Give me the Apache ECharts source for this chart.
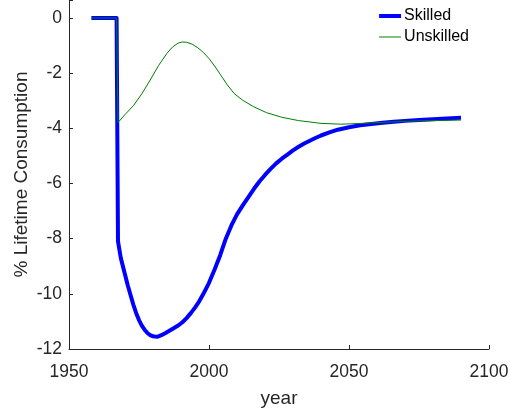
<!DOCTYPE html>
<html>
<head>
<meta charset="utf-8">
<script src="https://cdn.jsdelivr.net/npm/echarts@6/dist/echarts.min.js"></script>
<style>html,body{margin:0;padding:0;background:#fff}#c{width:510px;height:409px}</style>
</head>
<body>
<div id="c"></div>
<script>
var skilledYears = [1958, 1967, 1967.5, 1968.5, 1970, 1971, 1972, 1973, 1974, 1975, 1976, 1977, 1978, 1979, 1980, 1981.5, 1983, 1984.5, 1986, 1987.5, 1989, 1990.5, 1992, 1993.5, 1995, 1996.5, 1998, 2000, 2002, 2004, 2006, 2008, 2010, 2012, 2014, 2016, 2018, 2020, 2022, 2024, 2026, 2028, 2030, 2032, 2034, 2036, 2038, 2040, 2043, 2046, 2050, 2054, 2058, 2062, 2066, 2070, 2075, 2080, 2085, 2090];
var skilledValues = [0, 0, -8.1, -8.7, -9.3, -9.7, -10.05, -10.4, -10.7, -10.95, -11.15, -11.3, -11.42, -11.5, -11.54, -11.56, -11.5, -11.42, -11.33, -11.24, -11.15, -11.03, -10.88, -10.7, -10.5, -10.27, -10.0, -9.6, -9.12, -8.6, -8.0, -7.52, -7.12, -6.8, -6.5, -6.2, -5.93, -5.69, -5.47, -5.27, -5.1, -4.95, -4.8, -4.67, -4.55, -4.45, -4.35, -4.26, -4.15, -4.05, -3.96, -3.89, -3.84, -3.8, -3.76, -3.73, -3.7, -3.67, -3.64, -3.62];
var unskilledYears = [1958, 1967, 1967.5, 1970, 1973, 1976, 1979, 1982, 1985, 1987, 1989, 1990.5, 1992, 1994, 1996, 1998, 2000, 2002, 2004, 2006.5, 2009, 2012, 2016, 2020.5, 2026, 2032, 2040, 2047, 2055, 2065, 2075, 2090];
var unskilledValues = [0, 0, -3.79, -3.5, -3.18, -2.75, -2.25, -1.72, -1.28, -1.05, -0.91, -0.87, -0.88, -0.95, -1.08, -1.25, -1.47, -1.74, -2.04, -2.42, -2.74, -2.98, -3.22, -3.43, -3.6, -3.72, -3.82, -3.85, -3.82, -3.77, -3.73, -3.7];
var yTicks = [-12, -10, -8, -6, -4, -2, 0];
var xTicks = [1950, 2000, 2050, 2100];

function pairs(xs, ys) { return xs.map(function (x, i) { return [x, ys[i]]; }); }

var axisColor = '#262626';
var font = 'Liberation Sans, Arial, sans-serif';
var chart = echarts.init(document.getElementById('c'), null, { renderer: 'canvas' });
chart.setOption({
  animation: false,
  backgroundColor: '#ffffff',
  grid: { left: 69, right: 21, top: 0, bottom: 60, containLabel: false, outerBoundsMode: 'none' },
  legend: {
    right: 36, top: 3, orient: 'vertical', itemGap: 5, itemWidth: 22, itemHeight: 14,
    symbolKeepAspect: true,
    textStyle: { fontFamily: font, fontSize: 16, color: '#000', padding: [0, 0, 0, -2] },
    data: [
      { name: 'Skilled', icon: 'path://M0,0H22V4H0Z', itemStyle: { color: '#0000ff' } },
      { name: 'Unskilled', icon: 'path://M0,0H22V1H0Z', itemStyle: { color: '#008000' } }
    ]
  },
  xAxis: {
    type: 'value', min: 1950, max: 2100, interval: 50,
    name: 'year', nameLocation: 'middle', nameGap: 40, nameMoveOverlap: false,
    nameTextStyle: { fontFamily: font, fontSize: 19, color: axisColor },
    axisLine: { show: true, onZero: false, lineStyle: { color: axisColor, width: 1 } },
    axisTick: { show: true, inside: true, length: 4, lineStyle: { color: axisColor } },
    axisLabel: { fontFamily: font, fontSize: 17.5, color: axisColor, margin: 14,
      formatter: function (v) { return String(v); } },
    splitLine: { show: false }
  },
  yAxis: {
    type: 'value', min: -12, max: 0.652, interval: 2,
    name: '% Lifetime Consumption', nameLocation: 'middle', nameGap: 38, nameMoveOverlap: false,
    nameTextStyle: { fontFamily: font, fontSize: 19, color: axisColor },
    axisLine: { show: true, onZero: false, lineStyle: { color: axisColor, width: 1 } },
    axisTick: { show: true, inside: true, length: 4, lineStyle: { color: axisColor },
      interval: function (i, v) { return yTicks.indexOf(Number(v)) >= 0; } },
    axisLabel: { fontFamily: font, fontSize: 17.5, color: axisColor, margin: 7,
      formatter: function (v) { return yTicks.indexOf(v) >= 0 ? String(v) : ''; } },
    splitLine: { show: false }
  },
  series: [
    { name: 'Skilled', type: 'line', data: pairs(skilledYears, skilledValues), showSymbol: false, symbol: 'none',
      smooth: false, color: '#0000ff', lineStyle: { color: '#0000ff', width: 4, join: 'round' }, z: 2 },
    { name: 'Unskilled', type: 'line', data: pairs(unskilledYears, unskilledValues), showSymbol: false, symbol: 'none',
      smooth: false, color: '#008000', lineStyle: { color: '#008000', width: 1 }, z: 3 }
  ]
});
</script>
</body>
</html>
